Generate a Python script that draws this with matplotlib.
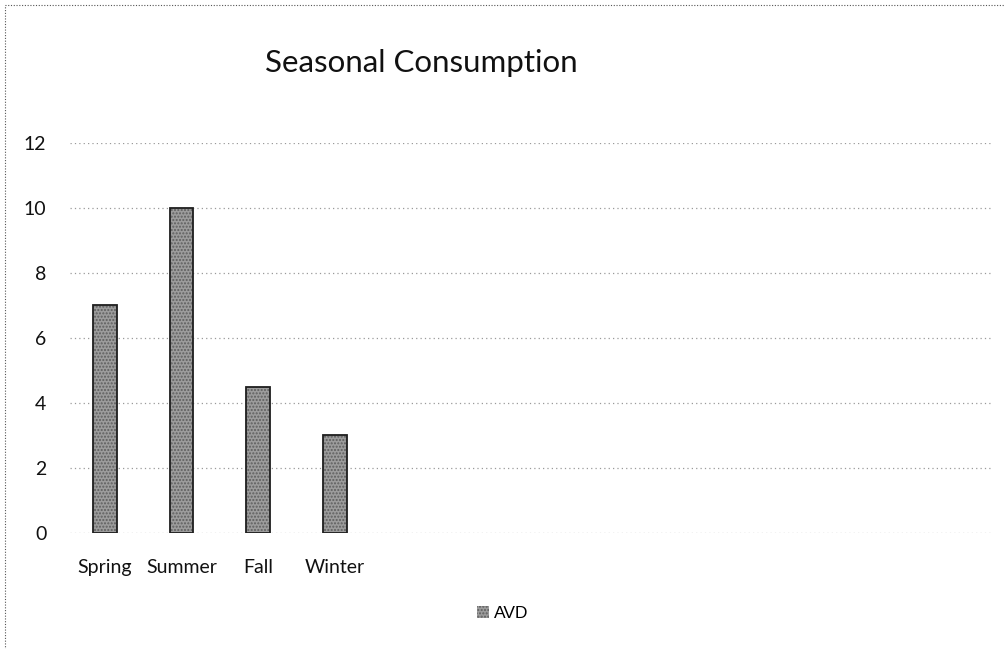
import matplotlib.pyplot as plt
from matplotlib.patches import Rectangle

# data
seasons = ['Spring', 'Summer', 'Fall', 'Winter']
avd = [7, 10, 4.5, 3]
n_slots = 12  # the category axis has empty slots to the right
y_ticks = [0, 2, 4, 6, 8, 10, 12]

plt.rcParams['font.family'] = ['Lato', 'DejaVu Sans']

fig = plt.figure(figsize=(10.05, 6.49), dpi=100)
ax = fig.add_axes([0.0697, 0.179, 0.917, 0.601])

x = list(range(len(seasons)))
# textured fill, then a dark outline on top
ax.bar(x, avd, width=0.31, color='#9c9c9c', edgecolor='#5e5e5e',
       linewidth=0, hatch='.....', label='AVD', zorder=3)
ax.bar(x, avd, width=0.31, fill=False, edgecolor='#1e1e1e',
       linewidth=1.3, zorder=4)

ax.set_xlim(-0.45, n_slots - 0.45)
ax.set_ylim(0, 12)
ax.set_yticks(y_ticks)
ax.set_xticks(x)
ax.set_xticklabels(seasons)
ax.tick_params(axis='both', length=0, labelsize=14, colors='#111111')
ax.tick_params(axis='y', pad=17)
ax.tick_params(axis='x', pad=19)

for sp in ax.spines.values():
    sp.set_visible(False)
ax.yaxis.grid(True, linestyle=(0, (1, 2.5)), color='#9a9a9a', linewidth=0.9)
ax.set_axisbelow(True)

fig.text(0.419, 0.903, 'Seasonal Consumption', ha='center', va='center',
         fontsize=22.5, color='#111111')

leg = fig.legend(loc='center', bbox_to_anchor=(0.5, 0.055), frameon=False,
                 prop={'family': 'Liberation Sans', 'size': 12.5},
                 handlelength=0.7, handleheight=0.7, handletextpad=0.25)

# dotted border of the scanned chart area
fig.patches.append(Rectangle((0.005, -0.01), 1.2, 1.002, transform=fig.transFigure,
                             fill=False, linestyle=(0, (1, 1.5)), linewidth=0.8,
                             edgecolor='#555555'))

fig.savefig('out.png', dpi=100)
